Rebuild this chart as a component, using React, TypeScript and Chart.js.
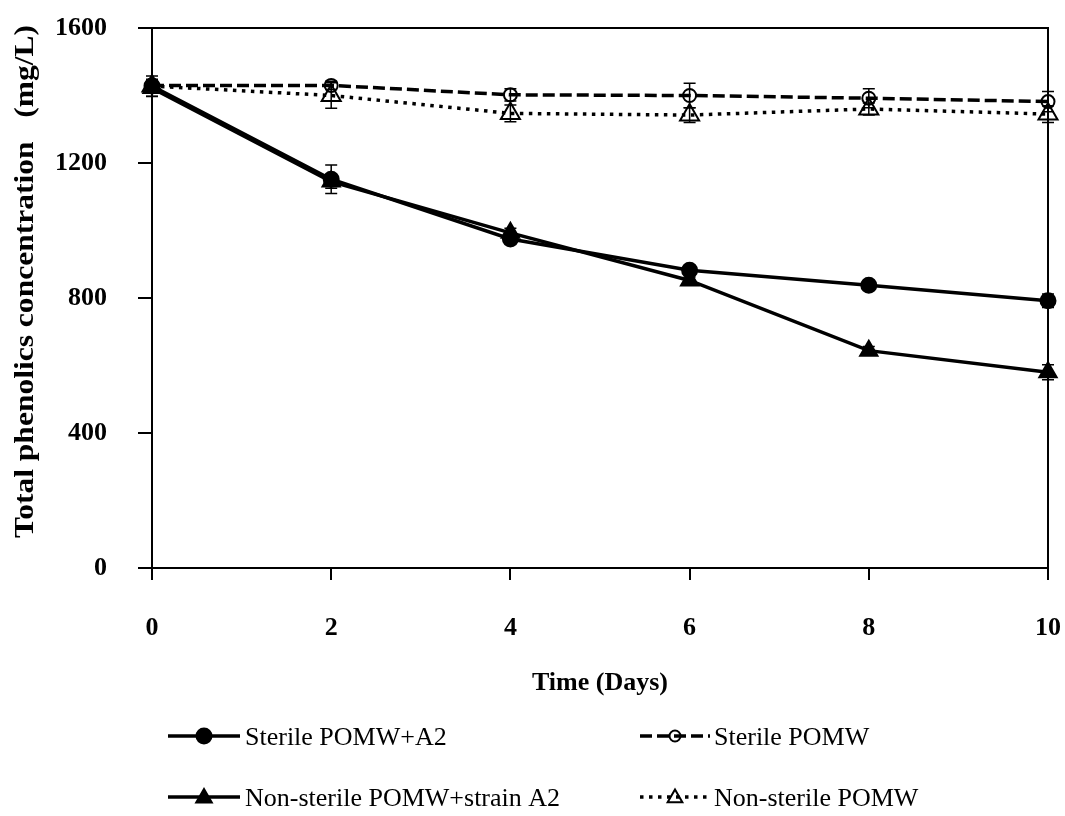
import React, { useEffect, useRef } from 'react';
import { Chart, registerables } from 'chart.js';

Chart.register(...registerables);

const FONT = "'Times New Roman', 'Liberation Serif', serif";

// ---- data ----
const days = [0, 2, 4, 6, 8, 10];
const xTicks = [0, 2, 4, 6, 8, 10];
const yTicks = [0, 400, 800, 1200, 1600];

const sterileA2 = [1428, 1152, 975, 882, 838, 792];
const sterileA2Err = [30, 42, 12, 12, 12, 20];

const sterile = [1430, 1430, 1402, 1400, 1392, 1382];
const sterileErr = [15, 12, 18, 36, 28, 30];

const nonSterileA2 = [1422, 1145, 993, 852, 644, 580];
const nonSterileA2Err = [25, 20, 14, 10, 12, 22];

const nonSterile = [1428, 1400, 1347, 1342, 1360, 1345];
const nonSterileErr = [20, 38, 25, 22, 18, 25];

const seriesLabels = [
  'Sterile POMW+A2',
  'Sterile POMW',
  'Non-sterile POMW+strain A2',
  'Non-sterile POMW',
];
const xTitle = 'Time (Days)';
const yTitle = 'Total phenolics concentration   (mg/L)';

type Sty = {
  dash: number[];
  width: number;
  marker: 'circle' | 'triangle';
  filled: boolean;
  r: number;
  legendR: number;
};

const styles: Sty[] = [
  { dash: [], width: 3.5, marker: 'circle', filled: true, r: 7.5, legendR: 7.5 },
  { dash: [12, 5], width: 3.5, marker: 'circle', filled: false, r: 6.5, legendR: 5.5 },
  { dash: [], width: 3.5, marker: 'triangle', filled: true, r: 10, legendR: 9 },
  { dash: [3.5, 5.5], width: 3.5, marker: 'triangle', filled: false, r: 11, legendR: 8.5 },
];

const values = [sterileA2, sterile, nonSterileA2, nonSterile];
const errors = [sterileA2Err, sterileErr, nonSterileA2Err, nonSterileErr];

function drawMarker(ctx: CanvasRenderingContext2D, s: Sty, x: number, y: number, r: number) {
  ctx.save();
  ctx.setLineDash([]);
  ctx.lineWidth = 2;
  ctx.strokeStyle = '#000';
  ctx.fillStyle = '#000';
  ctx.beginPath();
  if (s.marker === 'circle') {
    ctx.arc(x, y, r, 0, Math.PI * 2);
  } else {
    for (let i = 0; i < 3; i++) {
      const a = (i * 2 * Math.PI) / 3;
      const px = x + Math.sin(a) * r;
      const py = y - Math.cos(a) * r;
      if (i === 0) ctx.moveTo(px, py);
      else ctx.lineTo(px, py);
    }
    ctx.closePath();
  }
  if (s.filled) ctx.fill();
  ctx.stroke();
  ctx.restore();
}

const errorBarPlugin = {
  id: 'errorBars',
  afterDatasetsDraw(chart: any) {
    const ctx: CanvasRenderingContext2D = chart.ctx;
    const xs = chart.scales.x;
    const ys = chart.scales.y;
    ctx.save();
    ctx.strokeStyle = '#000';
    ctx.lineWidth = 1.5;
    ctx.setLineDash([]);
    values.forEach((vals, di) => {
      vals.forEach((v, i) => {
        const e = errors[di][i];
        const x = xs.getPixelForValue(days[i]);
        const y1 = ys.getPixelForValue(v - e);
        const y2 = ys.getPixelForValue(v + e);
        ctx.beginPath();
        ctx.moveTo(x, y1);
        ctx.lineTo(x, y2);
        ctx.moveTo(x - 6, y1);
        ctx.lineTo(x + 6, y1);
        ctx.moveTo(x - 6, y2);
        ctx.lineTo(x + 6, y2);
        ctx.stroke();
      });
    });
    ctx.restore();
  },
};

const framePlugin = {
  id: 'frame',
  beforeDatasetsDraw(chart: any) {
    const { ctx, chartArea } = chart;
    ctx.save();
    ctx.strokeStyle = '#000';
    ctx.lineWidth = 2;
    ctx.beginPath();
    ctx.moveTo(chartArea.left, chartArea.top);
    ctx.lineTo(chartArea.right, chartArea.top);
    ctx.lineTo(chartArea.right, chartArea.bottom);
    ctx.stroke();
    ctx.restore();
  },
};

const textPlugin = {
  id: 'texts',
  afterDraw(chart: any) {
    const ctx: CanvasRenderingContext2D = chart.ctx;
    const ca = chart.chartArea;
    ctx.save();
    ctx.fillStyle = '#000';
    // x title
    ctx.font = `bold 26px ${FONT}`;
    ctx.textAlign = 'center';
    ctx.textBaseline = 'middle';
    ctx.fillText(xTitle, (ca.left + ca.right) / 2, 683);
    // y title
    ctx.save();
    ctx.font = `bold 28px ${FONT}`;
    const w = ctx.measureText(yTitle).width;
    const sx = 513 / w;
    ctx.translate(26, 281.5);
    ctx.rotate(-Math.PI / 2);
    ctx.scale(sx, 1);
    ctx.fillText(yTitle, 0, 0);
    ctx.restore();

    // legend
    const pos = [
      { x0: 168, x1: 240, tx: 245, y: 736 },
      { x0: 640, x1: 710, tx: 714, y: 736 },
      { x0: 168, x1: 240, tx: 245, y: 797 },
      { x0: 640, x1: 710, tx: 714, y: 797 },
    ];
    ctx.font = `26px ${FONT}`;
    ctx.textAlign = 'left';
    ctx.textBaseline = 'middle';
    pos.forEach((p, i) => {
      const s = styles[i];
      ctx.save();
      ctx.strokeStyle = '#000';
      ctx.lineWidth = s.width;
      ctx.setLineDash(s.dash);
      ctx.beginPath();
      ctx.moveTo(p.x0, p.y);
      ctx.lineTo(p.x1, p.y);
      ctx.stroke();
      ctx.restore();
      drawMarker(ctx, s, (p.x0 + p.x1) / 2, s.marker === 'triangle' ? p.y + 1 : p.y, s.legendR);
      ctx.fillText(seriesLabels[i], p.tx, p.y + 2);
    });
    ctx.restore();
  },
};

export default function App() {
  const ref = useRef<HTMLCanvasElement>(null);

  useEffect(() => {
    if (!ref.current) return;
    const datasets = values.map((vals, i) => {
      const s = styles[i];
      return {
        label: seriesLabels[i],
        data: vals.map((v, j) => ({ x: days[j], y: v })),
        borderColor: '#000',
        borderWidth: s.width,
        borderDash: s.dash,
        borderCapStyle: 'butt' as const,
        tension: 0,
        fill: false,
        pointStyle: s.marker,
        pointRadius: s.r,
        pointBorderWidth: 2,
        pointBorderColor: '#000',
        pointBackgroundColor: s.filled ? '#000' : 'rgba(0,0,0,0)',
        showLine: true,
        clip: false,
      };
    });

    const tickFont = { family: FONT, size: 26, weight: 'bold' as const };

    const chart = new Chart(ref.current, {
      type: 'line',
      data: { datasets },
      options: {
        responsive: false,
        devicePixelRatio: 1,
        animation: false,
        layout: { padding: { left: 0, top: 28, right: 17, bottom: 0 } },
        plugins: { legend: { display: false }, tooltip: { enabled: false } },
        scales: {
          x: {
            type: 'linear',
            min: 0,
            max: 10,
            afterFit: (s: any) => {
              s.height = 248;
              s.paddingLeft = 0;
              s.paddingRight = 0;
              s.paddingTop = 0;
              s.paddingBottom = 0;
            },
            afterBuildTicks: (s: any) => {
              s.ticks = xTicks.map((v) => ({ value: v }));
            },
            ticks: {
              color: '#000',
              font: tickFont,
              padding: 33,
              maxRotation: 0,
              autoSkip: false,
              callback: (v: any) => String(v),
            },
            grid: { drawOnChartArea: false, drawTicks: true, tickLength: 12, color: '#000', lineWidth: 2 },
            border: { display: true, color: '#000', width: 2 },
          },
          y: {
            type: 'linear',
            min: 0,
            max: 1600,
            afterFit: (s: any) => {
              s.width = 152;
              s.paddingLeft = 0;
              s.paddingRight = 0;
              s.paddingTop = 0;
              s.paddingBottom = 0;
            },
            afterBuildTicks: (s: any) => {
              s.ticks = yTicks.map((v) => ({ value: v }));
            },
            ticks: {
              color: '#000',
              font: tickFont,
              padding: 31,
              autoSkip: false,
              callback: (v: any) => String(v),
            },
            grid: { drawOnChartArea: false, drawTicks: true, tickLength: 14, color: '#000', lineWidth: 2 },
            border: { display: true, color: '#000', width: 2 },
          },
        },
      },
      plugins: [framePlugin, errorBarPlugin, textPlugin],
    } as any);

    return () => chart.destroy();
  }, []);

  return (
    <div style={{ position: 'fixed', left: 0, top: 0, width: 1065, height: 816, background: '#fff' }}>
      <canvas ref={ref} width={1065} height={816} style={{ display: 'block', width: 1065, height: 816 }} />
    </div>
  );
}
